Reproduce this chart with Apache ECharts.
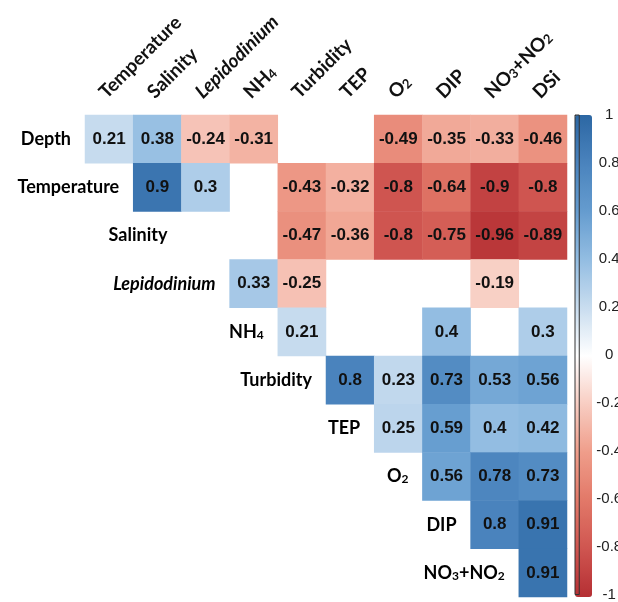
<!DOCTYPE html>
<html>
<head>
<meta charset="utf-8">
<script src="https://cdn.jsdelivr.net/npm/echarts@6/dist/echarts.min.js"></script>
<style>
  html, body { margin: 0; padding: 0; background: #fff; }
  #chart { width: 618px; height: 602px; }
</style>
</head>
<body>
<div id="chart"></div>
<script>
// variables along the top, left to right
const columns = ['Temperature', 'Salinity', 'Lepidodinium', 'NH4', 'Turbidity', 'TEP', 'O2', 'DIP', 'NO3+NO2', 'DSi']
// variables down the diagonal, top to bottom
const rows = ['Depth', 'Temperature', 'Salinity', 'Lepidodinium', 'NH4', 'Turbidity', 'TEP', 'O2', 'DIP', 'NO3+NO2']

// each row starts at the column with the same index (upper triangle), null = blank cell
const depth = [0.21, 0.38, -0.24, -0.31, null, null, -0.49, -0.35, -0.33, -0.46]
const temperature = [0.9, 0.3, null, -0.43, -0.32, -0.8, -0.64, -0.9, -0.8]
const salinity = [null, null, -0.47, -0.36, -0.8, -0.75, -0.96, -0.89]
const lepidodinium = [0.33, -0.25, null, null, null, -0.19, null]
const nh4 = [0.21, null, null, 0.4, null, 0.3]
const turbidity = [0.8, 0.23, 0.73, 0.53, 0.56]
const tep = [0.25, 0.59, 0.4, 0.42]
const o2 = [0.56, 0.78, 0.73]
const dip = [0.8, 0.91]
const no3no2 = [0.91]

const matrix = [depth, temperature, salinity, lepidodinium, nh4, turbidity, tep, o2, dip, no3no2]

const palette = ['#b52f33', '#cf5550', '#e27868', '#ef9d8a', '#f8cdc2', '#ffffff',
  '#c9ddef', '#93bde2', '#659ccf', '#4a83bd', '#2c67a3']

const cells = []
matrix.forEach((vals, r) => {
  vals.forEach((v, k) => {
    if (v !== null) cells.push([r + k, r, v])
  })
})

// rich-text markup for subscripts / italics
function markup(name) {
  if (name === 'NH4') return '{b|NH}{s|4}'
  if (name === 'O2') return '{b|O}{s|2}'
  if (name === 'NO3+NO2') return '{b|NO}{s|3}{b|+NO}{s|2}'
  if (name === 'Lepidodinium') return '{i|Lepidodinium}'
  return '{b|' + name + '}'
}

function richStyle(size) {
  return {
    b: { fontFamily: 'Lato', fontWeight: 'bold', fontSize: size, color: '#111' },
    i: { fontFamily: 'Lato', fontWeight: 'bold', fontStyle: 'italic', fontSize: size, color: '#111' },
    s: { fontFamily: 'Lato', fontWeight: 'bold', fontSize: Math.round(size * 0.67), color: '#111', padding: [6, 0, 0, 0] }
  }
}

const chart = echarts.init(document.getElementById('chart'))

const option = {
  animation: false,
  grid: [
    { left: 85, top: 115, width: 482, height: 482 },
    { left: 575, top: 115, width: 17, height: 482, show: true, borderColor: '#333', borderWidth: 1,
      backgroundColor: 'transparent', z: 10 }
  ],
  xAxis: [
    {
      type: 'category',
      data: columns,
      position: 'top',
      axisLine: { show: false },
      axisTick: { show: false },
      splitLine: { show: false },
      axisLabel: {
        rotate: -45,
        margin: 13,
        verticalAlign: 'bottom',
        interval: 0,
        formatter: (v) => markup(v),
        rich: richStyle(19)
      }
    },
    { type: 'value', gridIndex: 1, show: false, min: 0, max: 1 }
  ],
  yAxis: [
    {
      type: 'category',
      data: rows,
      inverse: true,
      show: false
    },
    {
      type: 'value',
      gridIndex: 1,
      min: -1,
      max: 1,
      interval: 0.2,
      position: 'right',
      axisLine: { show: false },
      splitLine: { show: false },
      axisTick: { show: true, length: 3, lineStyle: { color: '#333', width: 1 } },
      axisLabel: {
        margin: 30,
        align: 'center',
        fontFamily: 'Liberation Sans',
        fontSize: 15,
        color: '#222',
        formatter: (v) => String(Number(v.toFixed(1)))
      }
    }
  ],
  visualMap: {
    type: 'continuous',
    min: -1,
    max: 1,
    seriesIndex: 0,
    calculable: false,
    hoverLink: false,
    orient: 'vertical',
    left: 575,
    top: 115,
    itemWidth: 17,
    itemHeight: 482,
    padding: 0,
    inRange: { color: palette }
  },
  series: [
    {
      type: 'heatmap',
      data: cells,
      itemStyle: { borderWidth: 0 },
      label: {
        show: true,
        formatter: (p) => String(p.value[2]),
        fontFamily: 'Liberation Sans',
        fontWeight: 'bold',
        fontSize: 17,
        color: '#111'
      },
      emphasis: { disabled: true }
    },
    {
      type: 'custom',
      silent: true,
      data: rows.map((n, i) => [i, i]),
      renderItem: (params, api) => {
        const pt = api.coord([api.value(0), api.value(1)])
        const size = api.size([1, 1])
        return {
          type: 'text',
          style: {
            x: pt[0] - size[0] / 2 - 14,
            y: pt[1],
            text: markup(rows[params.dataIndex]),
            align: 'right',
            verticalAlign: 'middle',
            rich: richStyle(18)
          }
        }
      }
    }
  ]
}

chart.setOption(option)
</script>
</body>
</html>
